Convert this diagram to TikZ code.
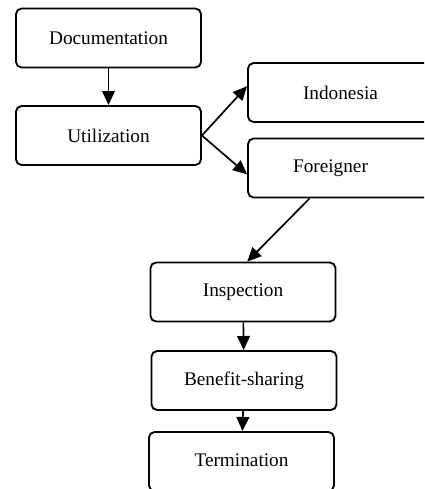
\documentclass[tikz,border=0pt]{standalone}
\usepackage{fontspec}
\setmainfont{Liberation Serif}
\usetikzlibrary{arrows.meta}

\begin{document}
\begin{tikzpicture}[
  x=0.025cm,
  y=-0.025cm,
  stagebox/.style={
    draw,
    rectangle,
    rounded corners=4pt,
    line width=1.3pt,
    minimum width=4.625cm,
    minimum height=1.475cm,
    font=\fontsize{13.7}{16}\selectfont
  },
  flow/.style={
    -{Triangle[length=10pt,width=9pt]},
    line width=1.2pt
  },
]
\clip (0,0) rectangle (424,489);
% stages
\node[stagebox] (doc) at (108.5,38) {\raisebox{-1pt}{Documentation}};
\node[stagebox] (util) at (108.5,135.5) {Utilization};
\node[stagebox] (indo) at (340.5,92.5) {Indonesia};
\node[stagebox] (forg) at (340.5,168) {Foreigner\hspace*{0.5cm}};
\node[stagebox] (insp) at (243,292) {Inspection};
\node[stagebox] (bene) at (244,380.5) {\raisebox{2pt}{Benefit-sharing}};
\node[stagebox] (term) at (241.5,461.5) {\raisebox{2pt}{Termination}};
% connectors
\draw[flow] (doc) -- (util);
\draw[flow] (util.east) -- ([yshift=4.5pt]indo.west);
\draw[flow] (util.east) -- ([yshift=-4.5pt]forg.west);
\draw[flow] ([xshift=-22pt]forg.south) -- ([xshift=3pt]insp.north);
\draw[flow] (insp) -- (bene);
\draw[flow] (bene) -- (term);
\end{tikzpicture}
\end{document}
